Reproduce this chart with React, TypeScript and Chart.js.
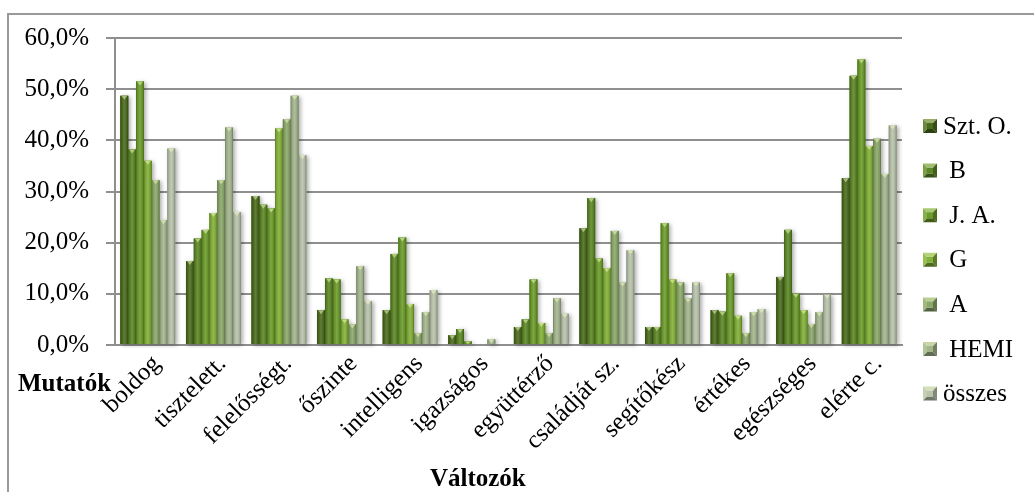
import React, { useEffect, useRef } from "react";
import { Chart, registerables } from "chart.js";

Chart.register(...registerables);

// Categories (variables) and series values in percent
const categories = [
  "boldog",
  "tisztelett.",
  "felelősségt.",
  "őszinte",
  "intelligens",
  "igazságos",
  "együttérző",
  "családját sz.",
  "segítőkész",
  "értékes",
  "egészséges",
  "elérte c.",
];

const seriesNames = ["Szt. O.", " B", " J. A.", " G", " A", " HEMI", "összes"];

const sztO = [48.7, 16.4, 29.1, 6.8, 6.8, 1.9, 3.5, 22.8, 3.5, 6.8, 13.3, 32.6];
const b = [38.2, 20.8, 27.4, 13.0, 17.8, 3.1, 5.0, 28.7, 3.5, 6.5, 22.5, 52.6];
const ja = [51.5, 22.5, 26.7, 12.8, 21.0, 0.7, 12.8, 16.9, 23.8, 14.0, 10.0, 55.8];
const g = [36.0, 25.8, 42.3, 5.0, 8.0, 0, 4.3, 15.0, 12.8, 5.7, 6.8, 38.9];
const a = [32.2, 32.2, 44.1, 4.0, 2.3, 0, 2.3, 22.3, 12.2, 2.3, 4.1, 40.3];
const hemi = [24.4, 42.5, 48.7, 15.4, 6.4, 1.1, 9.1, 12.2, 9.1, 6.4, 6.4, 33.4];
const osszes = [38.4, 26.0, 37.1, 8.6, 10.7, 0, 6.1, 18.5, 12.2, 7.0, 9.8, 42.9];

const seriesValues = [sztO, b, ja, g, a, hemi, osszes];
const seriesColors = ["#4b6b1d", "#5c8726", "#6c9b2c", "#82b038", "#8ba76a", "#a4b58e", "#b9c3ab"];

const yTicks = [0, 10, 20, 30, 40, 50, 60];

const xTitle = "Változók";
const yTitle = "Mutatók";

const FONT = '"Liberation Serif", "Times New Roman", serif';
const FONT_SIZE = 25;
const GRID = "#8f8f8f";

function hexToRgb(hex: string): [number, number, number] {
  const h = hex.replace("#", "");
  return [parseInt(h.slice(0, 2), 16), parseInt(h.slice(2, 4), 16), parseInt(h.slice(4, 6), 16)];
}

function mix(hex: string, target: string, t: number): string {
  const c1 = hexToRgb(hex);
  const c2 = hexToRgb(target);
  const r = c1.map((v, i) => Math.round(v + (c2[i] - v) * t));
  return `rgb(${r[0]},${r[1]},${r[2]})`;
}

function formatPct(v: number): string {
  return v.toFixed(1).replace(".", ",") + "%";
}

// Soft shadow behind each bar, a bevelled cylinder look on top,
// rotated category labels, axis titles and the legend
const barStylePlugin = {
  id: "barStyle",
  beforeDatasetsDraw(chart: any) {
    const ctx = chart.ctx;
    ctx.save();
    ctx.shadowColor = "rgba(0,0,0,0.35)";
    ctx.shadowBlur = 4;
    ctx.shadowOffsetX = 2;
    ctx.shadowOffsetY = 1;
    chart.data.datasets.forEach((ds: any, di: number) => {
      const meta = chart.getDatasetMeta(di);
      meta.data.forEach((el: any) => {
        const { x, y, base, width } = el.getProps(["x", "y", "base", "width"], true);
        const h = base - y;
        if (h <= 0.5) return;
        ctx.fillStyle = seriesColors[di];
        ctx.fillRect(x - width / 2, y, width, h);
      });
    });
    ctx.restore();
  },
  afterDatasetsDraw(chart: any) {
    const ctx = chart.ctx;
    ctx.save();
    chart.data.datasets.forEach((ds: any, di: number) => {
      const c = seriesColors[di];
      const meta = chart.getDatasetMeta(di);
      meta.data.forEach((el: any) => {
        const { x, y, base, width } = el.getProps(["x", "y", "base", "width"], true);
        const h = base - y;
        if (h <= 0.5) return;
        const left = x - width / 2;
        const grad = ctx.createLinearGradient(left, 0, left + width, 0);
        grad.addColorStop(0, mix(c, "#000000", 0.3));
        grad.addColorStop(0.18, mix(c, "#000000", 0.08));
        grad.addColorStop(0.5, mix(c, "#ffffff", 0.12));
        grad.addColorStop(0.82, mix(c, "#000000", 0.08));
        grad.addColorStop(1, mix(c, "#000000", 0.35));
        ctx.fillStyle = grad;
        ctx.fillRect(left, y, width, h);
        const bh = Math.min(4, h);
        ctx.beginPath();
        ctx.moveTo(left + 1, y);
        ctx.lineTo(left + width - 1, y);
        ctx.lineTo(x, y + bh);
        ctx.closePath();
        ctx.fillStyle = mix(c, "#f4ffc8", 0.55);
        ctx.fill();
      });
    });
    ctx.restore();
  },
  afterDraw(chart: any) {
    const ctx = chart.ctx;
    const area = chart.chartArea;
    const xScale = chart.scales.x;
    ctx.save();
    ctx.fillStyle = "#000";

    // category labels, rotated 45 degrees
    ctx.font = `${FONT_SIZE}px ${FONT}`;
    ctx.textAlign = "right";
    ctx.textBaseline = "middle";
    categories.forEach((label, i) => {
      const px = xScale.getPixelForTick(i);
      ctx.save();
      ctx.translate(px + 9, area.bottom + 15);
      ctx.rotate(-Math.PI / 4);
      ctx.fillText(label, 0, 0);
      ctx.restore();
    });

    // axis titles
    ctx.font = `bold ${FONT_SIZE}px ${FONT}`;
    ctx.textBaseline = "alphabetic";
    ctx.textAlign = "left";
    ctx.fillText(yTitle, 9, area.bottom + 46);
    ctx.textAlign = "center";
    ctx.fillText(xTitle, area.left + (area.right - area.left) * 0.461, area.bottom + 141);

    // legend
    const size = 14;
    const step = 44.6;
    const mx = area.right + 21;
    const y0 = area.top + 88;
    ctx.font = `${FONT_SIZE}px ${FONT}`;
    ctx.textAlign = "left";
    ctx.textBaseline = "middle";
    seriesNames.forEach((name, i) => {
      const c = seriesColors[i];
      const cy = y0 + i * step;
      const top = cy - size / 2;
      const inset = 4;
      const corners = [
        [mx, top],
        [mx + size, top],
        [mx + size, top + size],
        [mx, top + size],
      ];
      const inner = [
        [mx + inset, top + inset],
        [mx + size - inset, top + inset],
        [mx + size - inset, top + size - inset],
        [mx + inset, top + size - inset],
      ];
      const faces = [
        mix(c, "#f4ffc8", 0.45),
        mix(c, "#000000", 0.3),
        mix(c, "#000000", 0.4),
        mix(c, "#f4ffc8", 0.2),
      ];
      for (let k = 0; k < 4; k++) {
        const n = (k + 1) % 4;
        ctx.beginPath();
        ctx.moveTo(corners[k][0], corners[k][1]);
        ctx.lineTo(corners[n][0], corners[n][1]);
        ctx.lineTo(inner[n][0], inner[n][1]);
        ctx.lineTo(inner[k][0], inner[k][1]);
        ctx.closePath();
        ctx.fillStyle = faces[k];
        ctx.fill();
      }
      ctx.fillStyle = c;
      ctx.fillRect(inner[0][0], inner[0][1], size - 2 * inset, size - 2 * inset);
      ctx.fillStyle = "#000";
      ctx.fillText(name, mx + size + 6, cy + 1);
    });
    ctx.restore();
  },
};

export default function App() {
  const canvasRef = useRef<HTMLCanvasElement | null>(null);

  useEffect(() => {
    const canvas = canvasRef.current;
    if (!canvas) return;
    const chart = new Chart(canvas, {
      type: "bar",
      data: {
        labels: categories,
        datasets: seriesValues.map((vals, i) => ({
          label: seriesNames[i],
          data: vals,
          backgroundColor: seriesColors[i],
          borderWidth: 0,
          categoryPercentage: 0.835,
          barPercentage: 1.0,
        })),
      },
      options: {
        responsive: false,
        animation: false,
        devicePixelRatio: 1,
        layout: { padding: { top: 23, right: 132, left: 0, bottom: 0 } },
        plugins: {
          legend: { display: false },
          tooltip: { enabled: false },
          title: { display: false },
        },
        scales: {
          x: {
            grid: { display: false, drawTicks: false },
            border: { display: true, color: GRID, width: 2 },
            ticks: { display: false },
            afterFit: (scale: any) => {
              scale.height = 147;
            },
          },
          y: {
            min: 0,
            max: 60,
            afterBuildTicks: (scale: any) => {
              scale.ticks = yTicks.map((v) => ({ value: v }));
            },
            grid: { color: GRID, lineWidth: 2, tickLength: 9, drawTicks: true },
            border: { display: true, color: GRID, width: 2 },
            ticks: {
              padding: 17,
              color: "#000",
              font: { family: FONT, size: FONT_SIZE },
              callback: (v: any) => formatPct(Number(v)),
            },
            afterFit: (scale: any) => {
              scale.width = 106;
              scale.paddingTop = 0;
              scale.paddingBottom = 0;
            },
          },
        },
      },
      plugins: [barStylePlugin],
    });
    return () => chart.destroy();
  }, []);

  return (
    <div
      style={{
        position: "fixed",
        left: 7,
        top: 13,
        width: 1100,
        height: 600,
        borderTop: "2px solid #9a9a9a",
        borderLeft: "2px solid #9a9a9a",
        background: "#fff",
      }}
    >
      <canvas ref={canvasRef} width={1025} height={477} style={{ display: "block" }} />
    </div>
  );
}
